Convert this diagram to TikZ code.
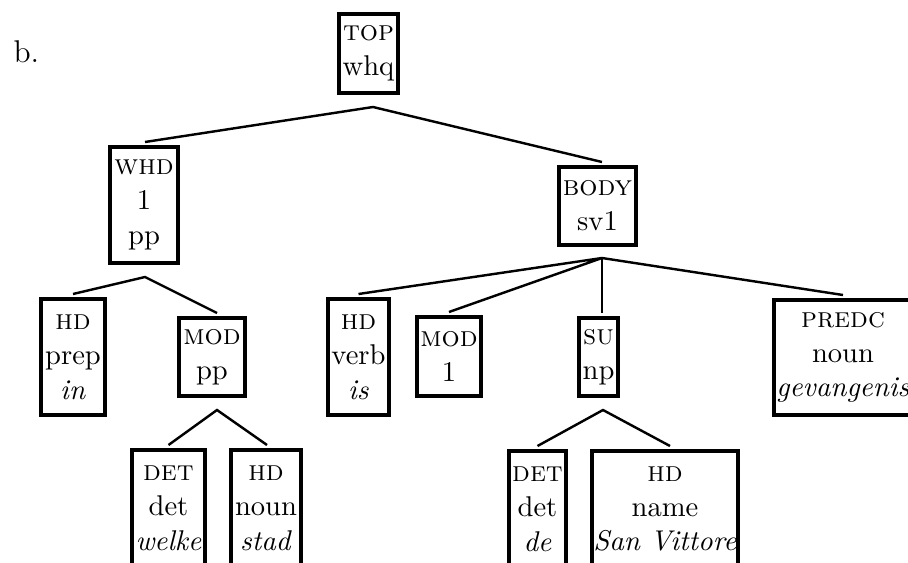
\documentclass[tikz,border=0pt]{standalone}
\usetikzlibrary{calc}
\begin{document}
\begin{tikzpicture}[x=0.35pt,y=-0.35pt]
\tikzset{
  fbox/.style={draw, line width=1.4pt, align=center, inner sep=0pt,
    font=\fontsize{10}{12.2}\selectfont},
  sz/.style 2 args={minimum width=#1*0.35pt, minimum height=#2*0.35pt},
  edge/.style={line width=0.85pt},
}
\useasboundingbox (0,0) rectangle (908,562);
\clip (0,0) rectangle (908,562);

\node[anchor=base west, inner sep=0pt, font=\fontsize{11}{13}\selectfont] (lbl) at (13,62) {b.};

% tree nodes
\node[fbox, sz={59}{79}]   (top)    at (368.5,53.5) {\textsc{top}\\whq};
\node[fbox, sz={68}{116}]  (whd)    at (144,205)    {\textsc{whd}\\1\\pp};
\node[fbox, sz={77}{78}]   (body)   at (597.5,206)  {\textsc{body}\\sv1};
\node[fbox, sz={64}{116}]  (hdprep) at (73,357)     {\textsc{hd}\\prep\\\textit{in}};
\node[fbox, sz={66}{78}]   (modpp)  at (212,357)    {\textsc{mod}\\pp};
\node[fbox, sz={61}{116}]  (hdverb) at (358.5,357)  {\textsc{hd}\\verb\\\textit{is}};
\node[fbox, sz={64}{79}]   (mod1)   at (449,356.5)  {\textsc{mod}\\1};
\node[fbox, sz={39}{78}]   (su)     at (598.5,357)  {\textsc{su}\\np};
\node[fbox, sz={138}{115}] (predc)  at (843,357.5)  {\textsc{predc}\\noun\\\textit{gevangenis}};
\node[fbox, sz={73}{116}]  (det1)   at (168.5,508)  {\textsc{det}\\det\\\textit{welke}};
\node[fbox, sz={70}{116}]  (hdnoun) at (266,508)    {\textsc{hd}\\noun\\\textit{stad}};
\node[fbox, sz={57}{116}]  (det2)   at (537.5,509)  {\textsc{det}\\det\\\textit{de}};
\node[fbox, sz={146}{116}] (hdname) at (665,509)    {\textsc{hd}\\name\\\textit{San Vittore}};

% branching points
\coordinate (topj)  at (373,107);
\coordinate (whdj)  at (145,277);
\coordinate (modj)  at (217,410);
\coordinate (bodyj) at (602,258);
\coordinate (suj)   at (603,410);

% branches
\draw[edge] ($(whd.north)+(1,-3)$) -- (topj) -- ($(body.north)+(4.5,-3)$);
\draw[edge] ($(hdprep.north)+(0,-3)$) -- (whdj) -- ($(modpp.north)+(5,-3)$);
\draw[edge] ($(det1.north)+(0,-3)$) -- (modj) -- ($(hdnoun.north)+(1,-3)$);
\draw[edge] ($(hdverb.north)+(0,-3)$) -- (bodyj) -- ($(mod1.north)+(0,-3)$);
\draw[edge] (bodyj) -- ($(su.north)+(3.5,-3)$);
\draw[edge] (bodyj) -- ($(predc.north)+(0,-3)$);
\draw[edge] ($(det2.north)+(0,-3)$) -- (suj) -- ($(hdname.north)+(5,-3)$);
\end{tikzpicture}
\end{document}
